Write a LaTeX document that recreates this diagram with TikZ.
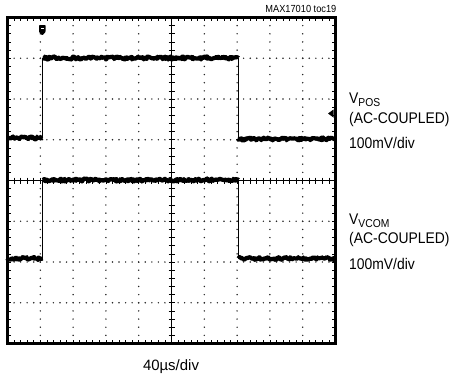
\documentclass[tikz,border=0pt]{standalone}
\usepackage{fontspec}
\setmainfont{Liberation Sans}
\newfontfamily\narrowfont{Liberation Sans}[FakeStretch=0.9]
\usetikzlibrary{decorations.pathmorphing}
\begin{document}
\begin{tikzpicture}[x=1bp,y=-1bp,
  gdot/.style={fill=black!85},
  trace/.style={line width=4.2bp, line join=round, decorate,
    decoration={random steps, segment length=1.1bp, amplitude=1.5bp}},
  edgeline/.style={line width=1.1bp},
  tick/.style={line width=0.7bp},
  lbl/.style={font=\narrowfont\fontsize{15.5}{17}\selectfont, inner sep=0pt},
]
\pgfmathsetseed{7}
\useasboundingbox (0,0) rectangle (451,377);
\def\XA{7.5}\def\XB{335.5}\def\YA{17.5}\def\YB{343.5}
\def\XC{171.5}\def\YC{180.5}
\pgfmathsetmacro\dx{32.8}
\pgfmathsetmacro\dy{40.75}
% dotted vertical grid lines
\foreach \i in {1,2,3,4,6,7,8,9}{
  \foreach \j in {1,...,39}{
    \fill[gdot] ({\XA+\i*\dx},{\YA+\j*\dy/5}) circle[radius=0.8bp];
  }
}
% dotted horizontal grid lines
\foreach \j in {1,2,3,5,6,7}{
  \foreach \i in {1,...,49}{
    \fill[gdot] ({\XA+\i*\dx/5},{\YA+\j*\dy}) circle[radius=0.8bp];
  }
}
% centre axes with ticks
\draw[tick] (\XC,\YA) -- (\XC,\YB);
\draw[tick] (\XA,\YC) -- (\XB,\YC);
\foreach \j in {1,...,39}{
  \draw[tick] ({\XC-3},{\YA+\j*\dy/5}) -- ({\XC+3},{\YA+\j*\dy/5});
  \draw[tick] (\XA,{\YA+\j*\dy/5}) -- ({\XA+3.5},{\YA+\j*\dy/5});
  \draw[tick] ({\XB-3.5},{\YA+\j*\dy/5}) -- (\XB,{\YA+\j*\dy/5});
}
\foreach \i in {1,...,49}{
  \draw[tick] ({\XA+\i*\dx/5},{\YC-3}) -- ({\XA+\i*\dx/5},{\YC+3});
  \draw[tick] ({\XA+\i*\dx/5},\YA) -- ({\XA+\i*\dx/5},{\YA+3.5});
  \draw[tick] ({\XA+\i*\dx/5},{\YB-3.5}) -- ({\XA+\i*\dx/5},\YB);
}
% frame
\draw[line width=3.4bp] (\XA,\YA) rectangle (\XB,\YB);
% trigger marker
\fill[rounded corners=0.8bp] (39,25) -- (45.6,25) -- (45.6,32) -- (42.3,35.5) -- (39,32) -- cycle;
\draw[white, line width=0.8bp] (41,28) -- (43.6,28);
% level marker
\fill (328,113.5) -- (333.5,109.5) -- (333.5,117.5) -- cycle;
% VPOS trace
\draw[trace] (\XA,138) -- (42.5,138);
\draw[edgeline] (42.5,138) -- (42.5,58);
\draw[trace] (42.5,58) -- (238.3,58);
\draw[edgeline] (238.3,58) -- (238.3,139);
\draw[trace] (238.3,139) -- (\XB,139);
% VVCOM trace
\draw[trace] (\XA,258.5) -- (42.8,258.5);
\draw[edgeline] (42.8,258.5) -- (42.8,180);
\draw[trace] (42.8,180) -- (238.5,180);
\draw[edgeline] (238.5,180) -- (238.5,258.5);
\draw[trace] (238.5,258.5) -- (\XB,258.5);
% labels
\node[inner sep=0pt, anchor=base east, font=\narrowfont\fontsize{10.3}{12}\selectfont] (toc) at (336.5,12.7) {MAX17010 toc19};
\node[lbl, anchor=base west] (vpos) at (349,103) {V\raisebox{-3.5bp}{\narrowfont\fontsize{11.5}{13}\selectfont POS}};
\node[lbl, anchor=base west] (vposac) at (349,123) {(AC-COUPLED)};
\node[lbl, anchor=base west] (vposdiv) at (349,148) {100mV/div};
\node[lbl, anchor=base west] (vcom) at (349,224) {V\raisebox{-3.5bp}{\narrowfont\fontsize{11.5}{13}\selectfont VCOM}};
\node[lbl, anchor=base west] (vcomac) at (349,243) {(AC-COUPLED)};
\node[lbl, anchor=base west] (vcomdiv) at (349,269) {100mV/div};
\node[inner sep=0pt, anchor=base, font=\fontsize{15}{17}\selectfont] (tdiv) at (171,370.5) {40µs/div};
\end{tikzpicture}
\end{document}
